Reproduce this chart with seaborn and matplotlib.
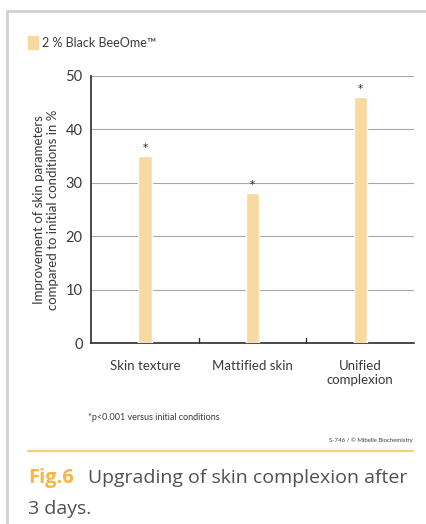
import pandas as pd
import matplotlib.pyplot as plt
import seaborn as sns
from matplotlib.lines import Line2D
from matplotlib.patches import Rectangle

categories = ['Skin texture', 'Mattified skin', 'Unified\ncomplexion']
values = [35, 28, 46]
significance = ['*', '*', '*']
series_name = '2 % Black BeeOme™'

bar_color = '#F8D9A0'
accent = '#F9B545'
ink = '#3a3a3a'

sns.set_theme(style='white')
plt.rcParams['font.family'] = ['Lato', 'DejaVu Sans']

data = pd.DataFrame({'category': categories, 'value': values})

fig = plt.figure(figsize=(4.27, 5.24), dpi=100)
ax = fig.add_axes([0.213, 0.3454, 0.757, 0.51])

sns.barplot(data=data, x='category', y='value', color=bar_color, width=0.125,
            saturation=1, ax=ax, zorder=3)

ax.set_ylim(0, 50)
ax.set_xlim(-0.5, 2.5)
ax.set_yticks([0, 10, 20, 30, 40, 50])
ax.yaxis.grid(True, color='#a8a8a8', linewidth=0.8)
ax.set_axisbelow(True)
for s in ['top', 'right']:
    ax.spines[s].set_visible(False)
ax.spines['left'].set_color('#333333')
ax.spines['bottom'].set_color('#333333')
ax.tick_params(axis='y', length=0, labelsize=10.5, colors=ink, pad=6)
ax.tick_params(axis='x', length=0, labelsize=9.5, colors=ink, pad=12)
ax.set_xlabel('')
ax.set_ylabel('Improvement of skin parameters\ncompared to initial conditions in %',
              fontsize=9.5, color=ink, labelpad=5)

# separator ticks between categories
for xs in [0.5, 1.5]:
    ax.plot([xs, xs], [0, 0.9], color='#333333', linewidth=1.0, zorder=4, clip_on=False)

for i, (v, s) in enumerate(zip(values, significance)):
    ax.text(i, v + 0.6, s, ha='center', va='bottom', fontsize=7.5, color='#222222',
            family=['DejaVu Sans'])

# legend
fig.patches.append(Rectangle((28 / 427, 1 - 49 / 524), 10 / 427, 13 / 524,
                             transform=fig.transFigure, color=bar_color))
fig.text(42 / 427, 1 - 43 / 524, series_name, fontsize=9, color=ink, va='center')

# frame lines
fig.add_artist(Line2D([7 / 427, 7 / 427], [0, 1 - 11 / 524], transform=fig.transFigure,
                      color='#d0d0d0', linewidth=2))
fig.add_artist(Line2D([7 / 427, 1], [1 - 11 / 524, 1 - 11 / 524], transform=fig.transFigure,
                      color='#d0d0d0', linewidth=2))

fig.text(88 / 427, 1 - 417 / 524, '*p<0.001 versus initial conditions',
         fontsize=6.5, color=ink, va='center')
fig.text(413 / 427, 1 - 440 / 524, 'S-746 / © Mibelle Biochemistry',
         fontsize=4.3, color=ink, va='center', ha='right')
fig.add_artist(Line2D([28 / 427, 413 / 427], [1 - 451 / 524, 1 - 451 / 524],
                      transform=fig.transFigure, color='#FBCB85', linewidth=1.6))

fig.text(28 / 427, 1 - 478 / 524, 'Fig.6', fontsize=14.5, color=accent, va='center',
         fontweight='bold', family=['Open Sans', 'DejaVu Sans'], stretch='condensed')
fig.text(88 / 427, 1 - 478 / 524, 'Upgrading of skin complexion after',
         fontsize=14, color='#505050', va='center', family=['Open Sans', 'DejaVu Sans'])
fig.text(28 / 427, 1 - 509 / 524, '3 days.',
         fontsize=14, color='#505050', va='center', family=['Open Sans', 'DejaVu Sans'])

fig.savefig('out.png', dpi=100)
